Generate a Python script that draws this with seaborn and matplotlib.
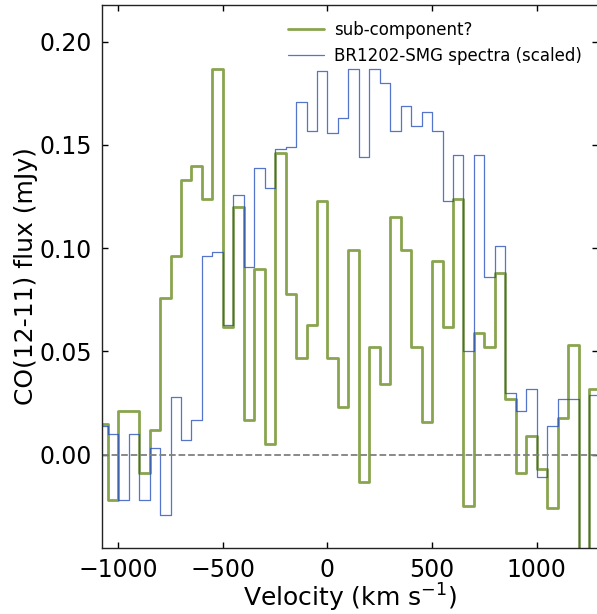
import numpy as np
import matplotlib
matplotlib.use('Agg')
import matplotlib.pyplot as plt
import seaborn as sns

# channel centres (km/s), 50 km/s wide
velocity = [-1075, -1025, -975, -925, -875, -825, -775, -725, -675, -625,
            -575, -525, -475, -425, -375, -325, -275, -225, -175, -125,
            -75, -25, 25, 75, 125, 175, 225, 275, 325, 375,
            425, 475, 525, 575, 625, 675, 725, 775, 825, 875,
            925, 975, 1025, 1075, 1125, 1175, 1225, 1275]

sub_component = [0.015, -0.022, 0.021, 0.021, -0.009, 0.012, 0.076, 0.096, 0.133, 0.140,
                 0.124, 0.187, 0.062, 0.120, 0.017, 0.090, 0.005, 0.146, 0.078, 0.047,
                 0.063, 0.123, 0.047, 0.023, 0.099, -0.013, 0.052, 0.034, 0.115, 0.099,
                 0.052, 0.016, 0.094, 0.062, 0.124, -0.025, 0.059, 0.052, 0.088, 0.027,
                 -0.009, 0.009, -0.007, -0.026, 0.018, 0.053, -0.080, 0.032]

smg_scaled = [0.014, 0.010, -0.022, 0.010, -0.022, 0.003, -0.029, 0.028, 0.007, 0.017,
              0.096, 0.098, 0.063, 0.126, 0.091, 0.139, 0.129, 0.148, 0.149, 0.171,
              0.157, 0.186, 0.156, 0.163, 0.187, 0.144, 0.187, 0.180, 0.157, 0.169,
              0.159, 0.166, 0.157, 0.123, 0.145, 0.050, 0.145, 0.086, 0.101, 0.030,
              0.021, 0.032, -0.011, 0.014, 0.027, 0.027, -0.080, 0.029]

CHAN = 50


def step_edges(centres, values):
    # left edges + closing edge so steps-post covers each full channel
    x = [c - CHAN / 2 for c in centres] + [centres[-1] + CHAN / 2]
    y = list(values) + [values[-1]]
    return x, y


def main():
    sns.set_style('ticks')
    plt.rcParams['font.family'] = ['DejaVu Sans']
    plt.rcParams['mathtext.fontset'] = 'dejavusans'
    plt.rcParams['text.color'] = 'black'
    plt.rcParams['axes.labelcolor'] = 'black'
    plt.rcParams['xtick.color'] = 'black'
    plt.rcParams['ytick.color'] = 'black'

    fig = plt.figure(figsize=(5.97, 6.14), dpi=100)
    ax = fig.add_axes([0.1704, 0.1075, 0.8313, 0.8844])

    x, y = step_edges(velocity, sub_component)
    sns.lineplot(x=x, y=y, ax=ax, drawstyle='steps-post', color='#6b8e23',
                 alpha=0.8, lw=2.0, label='sub-component?')
    x, y = step_edges(velocity, smg_scaled)
    sns.lineplot(x=x, y=y, ax=ax, drawstyle='steps-post', color='#2a52be',
                 alpha=0.8, lw=0.9, label='BR1202-SMG spectra (scaled)')

    ax.axhline(0, color='gray', ls='--', lw=1.3)

    ax.set_xlim(-1079, 1293)
    ax.set_ylim(-0.0452, 0.2178)
    ax.set_xticks([-1000, -500, 0, 500, 1000])
    ax.set_yticks([0.0, 0.05, 0.10, 0.15, 0.20])
    ax.set_yticklabels(['0.00', '0.05', '0.10', '0.15', '0.20'])
    ax.tick_params(direction='in', top=True, right=True, length=4.5, width=1,
                   labelsize=17, pad=7, color='black')
    for s in ax.spines.values():
        s.set_color('#222222')
        s.set_linewidth(1)

    ax.set_xlabel('Velocity (km s$^{-1}$)', fontsize=18, labelpad=0)
    ax.set_ylabel('CO(12-11) flux (mJy)', fontsize=18, labelpad=1)

    ax.legend(loc='upper right', frameon=False, fontsize=12, handlelength=2.15,
              handletextpad=0.6, borderaxespad=0.55, labelspacing=0.5)

    fig.savefig('out.png', dpi=100)
    plt.close(fig)


if __name__ == '__main__':
    main()
